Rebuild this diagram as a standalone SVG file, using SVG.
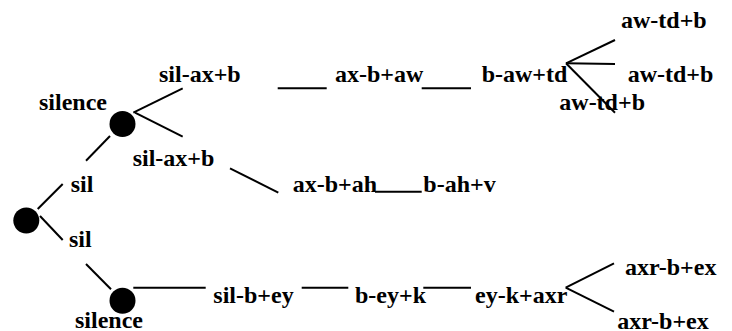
<svg xmlns="http://www.w3.org/2000/svg" width="732" height="331" viewBox="0 0 732 331">
  <defs>
    <style>
      .edge { stroke: #000; stroke-width: 2; fill: none; }
      .dot { fill: #000; }
    </style>
  </defs>
  <rect width="732" height="331" fill="#fff"/>

  <!-- connectors -->
  <g id="connectors">
    <line class="edge" x1="133.3" y1="112.7" x2="182.7" y2="88.3"/>
    <line class="edge" x1="135" y1="112.7" x2="182.7" y2="136.7"/>
    <line class="edge" x1="110" y1="136" x2="86" y2="160.7"/>
    <line class="edge" x1="277.7" y1="88.3" x2="326.7" y2="88.3"/>
    <line class="edge" x1="421.7" y1="88.3" x2="471" y2="88.3"/>
    <line class="edge" x1="566" y1="63.3" x2="615" y2="40"/>
    <line class="edge" x1="566" y1="63.3" x2="615" y2="64"/>
    <line class="edge" x1="566" y1="63.3" x2="615" y2="112.7"/>
    <line class="edge" x1="230" y1="168.3" x2="278.3" y2="192.7"/>
    <line class="edge" x1="375" y1="191.7" x2="421.7" y2="191.7"/>
    <line class="edge" x1="37.7" y1="209" x2="62.7" y2="184"/>
    <line class="edge" x1="40" y1="216" x2="62.7" y2="240"/>
    <line class="edge" x1="86" y1="264" x2="111" y2="289.3"/>
    <line class="edge" x1="133.3" y1="287.7" x2="205.7" y2="287.7"/>
    <line class="edge" x1="301.7" y1="287.7" x2="348.3" y2="287.7"/>
    <line class="edge" x1="423.3" y1="287.7" x2="471" y2="287.7"/>
    <line class="edge" x1="565.7" y1="287.7" x2="614" y2="263.3"/>
    <line class="edge" x1="565.7" y1="287.7" x2="614" y2="311.7"/>
  </g>

  <g font-family="Liberation Serif, Times New Roman, serif" font-weight="bold" font-size="24" fill="#000">
    <!-- state nodes -->
    <g id="root"><circle class="dot" cx="26.3" cy="220.5" r="13"/></g>
    <g id="silence-top"><circle class="dot" cx="122.5" cy="124" r="13"/><text x="39" y="110">silence</text></g>
    <g id="silence-bottom"><circle class="dot" cx="122.5" cy="300.7" r="13"/><text x="75" y="328">silence</text></g>

    <!-- labels -->
    <g id="sil-upper"><text x="70.7" y="192.3">sil</text></g>
    <g id="sil-lower"><text x="69" y="247.3">sil</text></g>
    <g id="sil-ax-b-1"><text x="159" y="82">sil-ax+b</text></g>
    <g id="ax-b-aw"><text x="335" y="82">ax-b+aw</text></g>
    <g id="b-aw-td"><text x="481.7" y="82">b-aw+td</text></g>
    <g id="aw-td-b-1"><text x="621" y="28">aw-td+b</text></g>
    <g id="aw-td-b-2"><text x="627.7" y="82">aw-td+b</text></g>
    <g id="aw-td-b-3"><text x="559.3" y="109.5">aw-td+b</text></g>
    <g id="sil-ax-b-2"><text x="132.7" y="165.5">sil-ax+b</text></g>
    <g id="ax-b-ah"><text x="292.7" y="192">ax-b+ah</text></g>
    <g id="b-ah-v"><text x="423.3" y="192">b-ah+v</text></g>
    <g id="sil-b-ey"><text x="213.3" y="303">sil-b+ey</text></g>
    <g id="b-ey-k"><text x="355" y="303">b-ey+k</text></g>
    <g id="ey-k-axr"><text x="475" y="303">ey-k+axr</text></g>
    <g id="axr-b-ex-1"><text x="625" y="275">axr-b+ex</text></g>
    <g id="axr-b-ex-2"><text x="617.3" y="329">axr-b+ex</text></g>
  </g>
</svg>
